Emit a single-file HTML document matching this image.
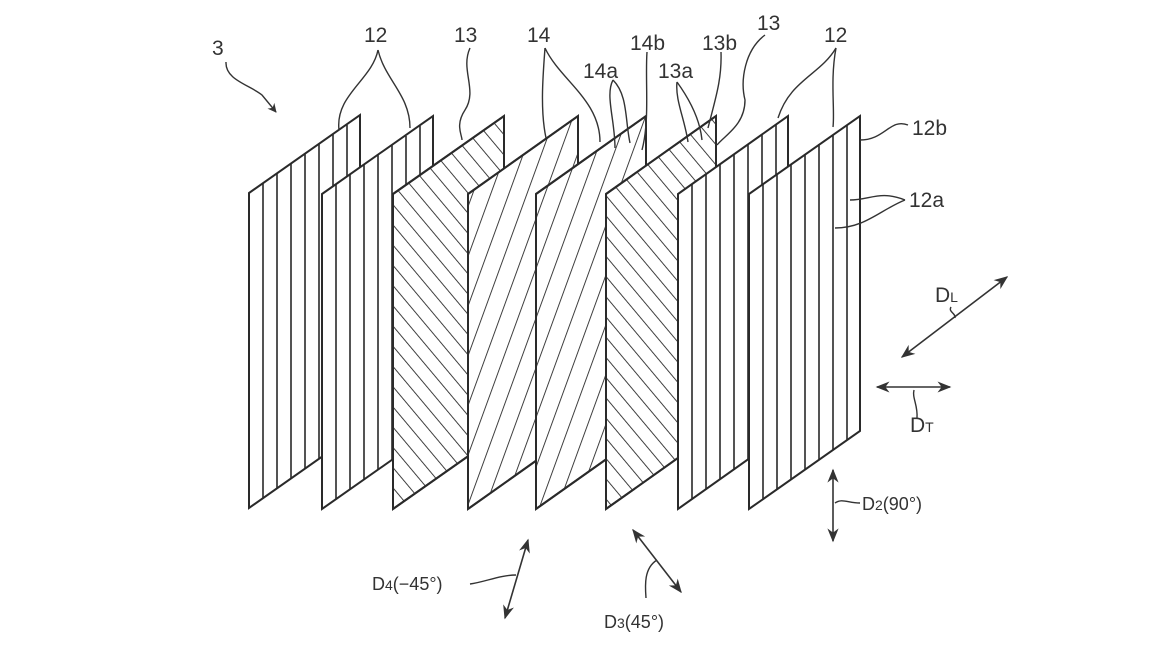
<!DOCTYPE html>
<html><head><meta charset="utf-8"><style>html,body{margin:0;padding:0;background:#fff}svg{display:block}text{font-family:"Liberation Sans",sans-serif;fill:#333}</style></head>
<body>
<svg width="1160" height="653" viewBox="0 0 1160 653" xmlns="http://www.w3.org/2000/svg">
<defs>
<marker id="ah" viewBox="0 0 10 10" refX="9" refY="5" markerWidth="9" markerHeight="9" orient="auto-start-reverse" markerUnits="userSpaceOnUse"><path d="M0,0 L10,5 L0,10 L3,5 Z" fill="#333"/></marker>
<marker id="ah2" viewBox="0 0 10 10" refX="9" refY="5" markerWidth="14" markerHeight="14" orient="auto-start-reverse" markerUnits="userSpaceOnUse"><path d="M0,1 L10,5 L0,9 L3,5 Z" fill="#333"/></marker>
<pattern id="pd" patternUnits="userSpaceOnUse" width="13" height="10" patternTransform="rotate(-40)"><line x1="0" y1="-5" x2="0" y2="15" stroke="#2a2a2a" stroke-width="1.8"/></pattern>
<pattern id="pu" patternUnits="userSpaceOnUse" width="17" height="10" patternTransform="rotate(20)"><line x1="0" y1="-5" x2="0" y2="15" stroke="#2a2a2a" stroke-width="1.8"/></pattern>
</defs>
<g fill="none" stroke="#2a2a2a" stroke-width="2">
<polygon points="249,193 360,115 360,430 249,508" fill="#fff"/>
<path d="M263,183V498M277,173V488M291,164V479M305,154V469M319,144V459M333,134V449M347,125V440" stroke-width="1.6"/>
<polygon points="322,194 433,116 433,431 322,509" fill="#fff"/>
<path d="M336,184V499M350,174V489M364,165V480M378,155V470M392,145V460M406,136V451M420,126V441" stroke-width="1.6"/>
<polygon points="393,194 504,116 504,431 393,509" fill="#fff"/>
<polygon points="393,194 504,116 504,431 393,509" fill="url(#pd)"/>
<polygon points="468,194 578,116 578,431 468,509" fill="#fff"/>
<polygon points="468,194 578,116 578,431 468,509" fill="url(#pu)"/>
<polygon points="536,194 646,116 646,431 536,509" fill="#fff"/>
<polygon points="536,194 646,116 646,431 536,509" fill="url(#pu)"/>
<polygon points="606,194 716,116 716,431 606,509" fill="#fff"/>
<polygon points="606,194 716,116 716,431 606,509" fill="url(#pd)"/>
<polygon points="678,194 788,116 788,431 678,509" fill="#fff"/>
<path d="M692,184V499M706,174V489M720,164V479M734,155V470M748,145V460M762,135V450M776,125V440" stroke-width="1.6"/>
<polygon points="749,194 860,116 860,431 749,509" fill="#fff"/>
<path d="M763,184V499M777,174V489M791,164V479M805,154V469M819,144V459M833,135V450M847,125V440" stroke-width="1.6"/>
</g>
<g fill="none" stroke="#333" stroke-width="1.4">
<path d="M226,62 C225,80 250,85 262,95 L276,112" marker-end="url(#ah)"/>
<path d="M378,50 C372,80 335,95 339,130"/>
<path d="M378,50 C385,80 410,95 410,128"/>
<path d="M470,48 C460,70 478,90 465,110 C455,125 462,135 462,140"/>
<path d="M545,48 C543,75 540,110 546,138"/>
<path d="M545,48 C560,80 600,100 600,142"/>
<path d="M613,80 C605,95 615,120 615,148"/>
<path d="M613,80 C628,95 625,120 630,143"/>
<path d="M647,52 C645,80 650,120 642,150"/>
<path d="M677,82 C675,100 685,120 688,142"/>
<path d="M677,82 C690,100 700,120 702,140"/>
<path d="M721,52 C722,80 715,100 708,128"/>
<path d="M765,35 C745,50 740,80 745,100 C745,125 725,135 717,145"/>
<path d="M836,48 C820,75 790,80 778,118"/>
<path d="M836,48 C830,80 835,110 833,127"/>
<path d="M908,125 C890,118 885,140 860,140"/>
<path d="M905,200 C880,190 870,200 850,200"/>
<path d="M905,200 C880,210 865,228 835,228"/>
<path d="M951,307 C948,312 956,313 955,318"/>
<path d="M917,418 C918,405 912,398 914,390"/>
<path d="M860,503 C848,503 842,498 835,503"/>
<path d="M470,584 C485,582 500,575 516,575"/>
<path d="M646,598 C645,585 644,568 657,560"/>
</g>
<g stroke="#333" stroke-width="1.6" fill="none">
<line x1="1007" y1="277" x2="902" y2="357" marker-start="url(#ah2)" marker-end="url(#ah2)"/>
<line x1="877" y1="387" x2="950" y2="387" marker-start="url(#ah2)" marker-end="url(#ah2)"/>
<line x1="833" y1="470" x2="833" y2="541" marker-start="url(#ah2)" marker-end="url(#ah2)"/>
<line x1="528" y1="540" x2="505" y2="618" marker-start="url(#ah2)" marker-end="url(#ah2)"/>
<line x1="633" y1="530" x2="681" y2="592" marker-start="url(#ah2)" marker-end="url(#ah2)"/>
</g>
<g font-size="21">
<text x="212" y="55">3</text>
<text x="364" y="42">12</text>
<text x="454" y="42">13</text>
<text x="527" y="42">14</text>
<text x="630" y="50">14b</text>
<text x="583" y="78">14a</text>
<text x="702" y="50">13b</text>
<text x="658" y="78">13a</text>
<text x="757" y="30">13</text>
<text x="824" y="42">12</text>
<text x="912" y="135">12b</text>
<text x="909" y="207">12a</text>
<text x="935" y="302">D<tspan font-size="14">L</tspan></text>
<text x="910" y="432">D<tspan font-size="14">T</tspan></text>
<text x="862" y="510" font-size="18">D<tspan font-size="14">2</tspan>(90°)</text>
<text x="372" y="590" font-size="18">D<tspan font-size="14">4</tspan>(−45°)</text>
<text x="604" y="628" font-size="18">D<tspan font-size="14">3</tspan>(45°)</text>
</g>
</svg>
</body></html>
